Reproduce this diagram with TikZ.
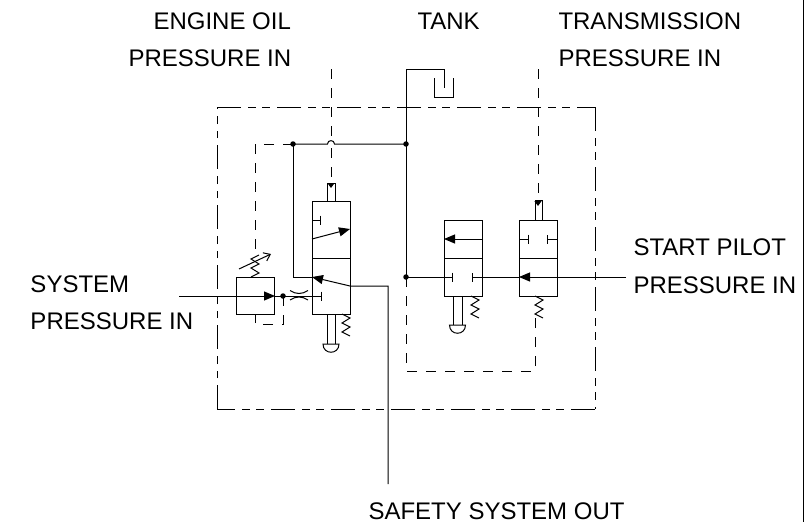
\documentclass[tikz,border=0pt]{standalone}
\usepackage{fontspec}
\setmainfont{Liberation Sans}
\usetikzlibrary{arrows.meta}
\tikzset{
  lbl/.style={anchor=base west,inner sep=0pt,font=\fontsize{24}{28}\selectfont},
  cell/.style={draw,rectangle,inner sep=0pt,anchor=north west,minimum width=38pt},
  pilot/.style={dash pattern=on 10pt off 9pt},
  frame/.style={dash pattern=on 24pt off 7pt on 7.5pt off 6.5pt on 8pt off 7pt},
  tee/.style={-{Bar[width=9pt,length=0pt]}},
  solid tip/.style={-{Triangle[length=11pt,width=9pt]}},
  zigspring/.pic={\draw[line join=miter] (-4,0) -- (4,4) -- (-4,9) -- (4,13) -- (-4,18) -- (4,22);},
  pushknob/.pic={\draw (-8,0) -- (8,0) .. controls (8,11) and (-8,11) .. cycle;},
  dotmark/.style={circle,fill,inner sep=0pt,minimum size=5.5pt}
}
\begin{document}
\begin{tikzpicture}[x=1pt,y=-1pt,line width=1pt]
  \useasboundingbox (0,0) rectangle (812,522);
  % labels
  \node[lbl] (engine) at (153,29) {ENGINE OIL};
  \node[lbl] (enginep) at (128,66) {PRESSURE IN};
  \node[lbl] (tanklbl) at (417,29) {TANK};
  \node[lbl] (trans) at (558,29) {TRANSMISSION};
  \node[lbl] (transp) at (558,66) {PRESSURE IN};
  \node[lbl] (start) at (633,255) {START PILOT};
  \node[lbl] (startp) at (633,293) {PRESSURE IN};
  \node[lbl] (system) at (30,292) {SYSTEM};
  \node[lbl] (systemp) at (30,329) {PRESSURE IN};
  \node[lbl] (safety) at (368,519) {SAFETY SYSTEM OUT};
  % page edge
  \draw (803,0) -- (803,522);
  % outer frame
  \coordinate (TL) at (217,107);
  \coordinate (TR) at (595,107);
  \coordinate (BR) at (595,409);
  \coordinate (BL) at (217,409);
  \draw[frame] (TL) -- (TR);
  \draw[frame] (TR) -- (BR);
  \draw[frame] (BL) -- (TL);
  \draw[frame,dash phase=6pt] (BL) -- (BR);
  % valves
  \node[cell,minimum height=113pt] (lvalve) at (312,201) {};
  \node[cell,minimum height=76pt] (mvalve) at (444,220) {};
  \node[cell,minimum height=76pt] (rvalve) at (519,220) {};
  \node[cell,minimum height=37pt] (relief) at (236,277) {};
  \foreach \v in {lvalve,mvalve,rvalve}
    \draw (\v.west) -- (\v.east);
  % stems
  \draw (327,201) -- (327,183) -- (335,183) -- (335,201);
  \draw (535,220) -- (535,200) -- (542,200) -- (542,220);
  \draw (327,314) -- (327,344) (335,314) -- (335,344);
  \draw (453,296) -- (453,325) (462,296) -- (462,325);
  \pic at (331,344) {pushknob};
  \pic at (457.5,325) {pushknob};
  % springs
  \pic at (346,314) {zigspring};
  \pic at (475,296) {zigspring};
  \pic at (539,296) {zigspring};
  \pic[yscale=-1] at (255,277) {zigspring};
  \draw[-{Straight Barb[length=6pt,width=9pt]}] (239,269) -- (271,254);
  % tank
  \coordinate (J2) at (406,144);
  \coordinate (J3) at (406,277);
  \draw (J3) -- (406,69) -- (444,69) -- (444,88);
  \draw (434,78) -- (434,97) -- (453,97) -- (453,78);
  % drain line
  \coordinate (J1) at (293,144);
  \draw (J1) -- (327.5,144) .. controls (327.5,139.5) and (334.5,139.5) .. (334.5,144) -- (J2);
  \draw (J1) -- (293,277) -- (lvalve.west |- 293,277);
  % pilots
  \draw[pilot] (J1) -- (255,144) -- (255,256);
  \draw[pilot] (331,69) -- (331,141);
  \draw[pilot,-{Triangle[length=5pt,width=7pt]}] (331,148) -- (331,188);
  \draw[pilot,-{Triangle[length=5pt,width=7pt]}] (538,69) -- (538,206);
  \draw[pilot] (J3) -- (406,371) -- (535,371) -- (535,318);
  % system in
  \coordinate (sysin) at (179,296);
  \coordinate (J4) at (283,296);
  \draw[solid tip] (sysin) -- (relief.east |- sysin);
  \draw[tee] (relief.east |- sysin) -- (322,296);
  \draw[pilot] (J4) -- (283,324) -- (255,324) -- (255,314);
  \draw (290,290.5) .. controls (296,294.5) and (302,294.5) .. (308,290.5);
  \draw (290,300) .. controls (296,296) and (302,296) .. (308,300);
  % internals left valve
  \draw[tee] (312,220) -- (321,220);
  \draw[solid tip] (312,239) -- (350,229);
  \coordinate (safe) at (388,484);
  \draw[solid tip] (safe) -- (388,286) -- (350,286) -- (312,277);
  % internals mid and right valves
  \draw[solid tip] (mvalve.east |- 0,239) -- (mvalve.west |- 0,239);
  \draw[tee] (519,239) -- (529,239);
  \draw[tee] (557,239) -- (547,239);
  \coordinate (pilotin) at (626,277);
  \draw[tee] (J3) -- (453,277);
  \draw[tee] (rvalve.west |- J3) -- (472,277);
  \draw[solid tip] (pilotin) -- (rvalve.west |- J3);
  % joints
  \foreach \j in {J1,J2,J3,J4}
    \node[dotmark] at (\j) {};
\end{tikzpicture}
\end{document}
